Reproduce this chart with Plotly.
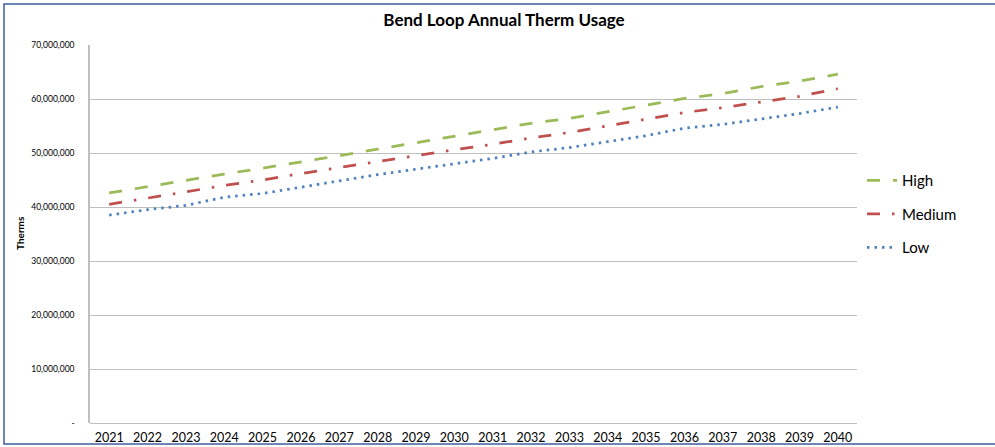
import plotly.graph_objects as go

years = [str(y) for y in range(2021, 2041)]
high = [42.6, 43.8, 44.9, 46.1, 47.2, 48.3, 49.5, 50.7, 51.9, 53.1,
        54.3, 55.5, 56.4, 57.6, 58.8, 60.1, 61.0, 62.3, 63.3, 64.6]
medium = [40.5, 41.6, 42.8, 44.0, 45.0, 46.2, 47.3, 48.5, 49.6, 50.6,
          51.6, 52.8, 53.8, 55.0, 56.2, 57.5, 58.4, 59.5, 60.5, 61.9]
low = [38.5, 39.5, 40.3, 41.8, 42.5, 43.7, 44.8, 46.0, 47.0, 48.0,
       49.0, 50.2, 51.0, 52.1, 53.2, 54.6, 55.3, 56.3, 57.3, 58.5]
high = [v * 1e6 for v in high]
medium = [v * 1e6 for v in medium]
low = [v * 1e6 for v in low]

ytick_vals = [0, 10e6, 20e6, 30e6, 40e6, 50e6, 60e6, 70e6]
ytick_text = ["-", "10,000,000", "20,000,000", "30,000,000", "40,000,000",
              "50,000,000", "60,000,000", "70,000,000"]

FONT = "Lato, 'Open Sans', sans-serif"
PW, PH, L, T = 767, 378, 90, 45

fig = go.Figure()
fig.add_trace(go.Scatter(x=years, y=high, name="High", mode="lines", legendgroup="h",
                         line=dict(color="#9BBB59", width=2.75, dash="13px,13px")))
fig.add_trace(go.Scatter(x=years, y=medium, name="Medium", mode="lines", legendgroup="m",
                         line=dict(color="#C0504D", width=2.75, dash="13px,12px,2.5px,12px")))
fig.add_trace(go.Scatter(x=years, y=low, name="Low", mode="lines", legendgroup="l",
                         line=dict(color="#4F81BD", width=2.75, dash="2.5px,5px")))

fig.update_layout(
    width=995, height=447,
    margin=dict(l=L, r=995 - L - PW, t=T, b=447 - T - PH, autoexpand=False),
    paper_bgcolor="white", plot_bgcolor="white",
    font=dict(family=FONT, color="#000000"),
    title=dict(text="<b>Bend Loop Annual Therm Usage</b>", x=(504 - L) / PW, xanchor="center",
               xref="paper", y=0.955, yanchor="middle", font=dict(size=17, family=FONT)),
    showlegend=True,
    legend=dict(x=(862 - L) / PW, y=(423 - 164) / PH, xanchor="left", yanchor="top",
                font=dict(size=15, family=FONT), tracegroupgap=11,
                bgcolor="rgba(0,0,0,0)"),
    xaxis=dict(type="category", range=[-0.5, 19.5], showgrid=False, automargin=False,
               showline=False, ticks="", tickfont=dict(size=12.5, family=FONT),
               ticklabelstandoff=5),
    yaxis=dict(range=[0, 70e6], tickvals=ytick_vals, ticktext=ytick_text, automargin=False,
               showgrid=True, gridcolor="#BFBFBF", gridwidth=1,
               showline=True, linecolor="#BFBFBF", linewidth=1.5, ticks="",
               tickfont=dict(size=8.5, family=FONT), ticklabelstandoff=12,
               zeroline=True, zerolinecolor="#BFBFBF", zerolinewidth=1),
)

fig.add_annotation(text="<b>Therms</b>", textangle=-90, showarrow=False,
                   xref="paper", yref="paper", x=(20 - L) / PW, y=(T + PH - 233) / PH,
                   xanchor="center", yanchor="middle", font=dict(size=10, family=FONT))

# chart border
fig.add_shape(type="rect", xref="paper", yref="paper",
              x0=(4 - L) / PW, x1=(1010 - L) / PW, y0=(T + PH - 444) / PH, y1=(T + PH - 4) / PH,
              line=dict(color="#3F5F9F", width=1.5), fillcolor="rgba(0,0,0,0)", layer="below")

fig.write_html("out.html", config={"displayModeBar": False},
               post_script="document.body.style.margin='0';document.body.style.overflow='hidden';")
